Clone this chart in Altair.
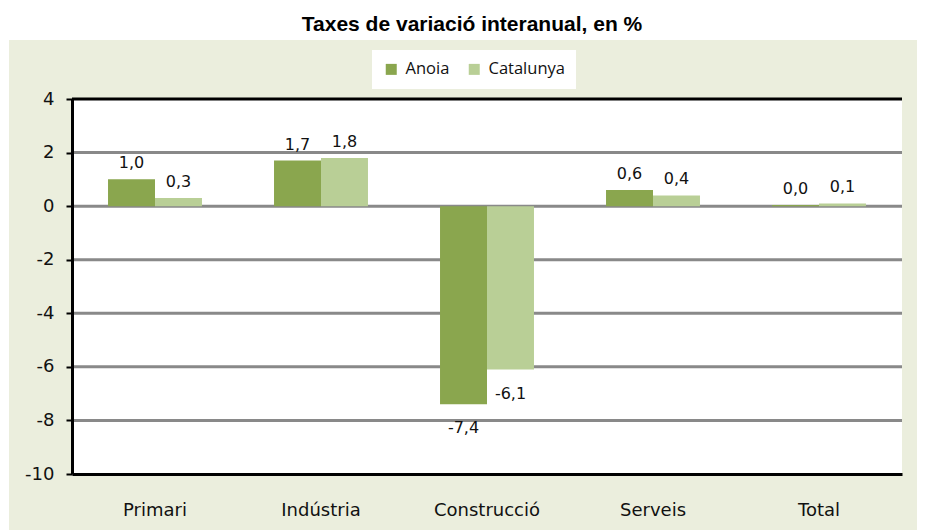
import altair as alt
import pandas as pd

# ---- data ----
categories = ["Primari", "Indústria", "Construcció", "Serveis", "Total"]
series = ["Anoia", "Catalunya"]
anoia = [1.0, 1.7, -7.4, 0.6, 0.04]
catalunya = [0.3, 1.8, -6.1, 0.4, 0.1]
y_ticks = [-10, -8, -6, -4, -2, 0, 2, 4]
grid_values = [-8, -6, -4, -2, 0, 2]
colors = ["#8aa64e", "#b9cf96"]
title_text = "Taxes de variació interanual, en %"

rows = []
for c, a, b in zip(categories, anoia, catalunya):
    rows.append({"cat": c, "serie": series[0], "v": a})
    rows.append({"cat": c, "serie": series[1], "v": b})
df = pd.DataFrame(rows)

W, H = 830, 375
PAD_L, PAD_T, PAD_R, PAD_B = 64, 91, 15, 56
BEIGE = "#ebeedd"

yscale = alt.Scale(domain=[-10, 4], nice=False, zero=False)
yaxis = alt.Axis(
    orient="left",
    values=y_ticks, title=None, grid=False, domainColor="black", domainWidth=3,
    tickColor="black", tickWidth=2, tickSize=6, labelPadding=12,
    labelFont="DejaVu Sans", labelFontSize=18, labelColor="#111111",
    labelExpr="'' + datum.value", zindex=1,
)
xaxis = alt.Axis(
    orient="bottom",
    title=None, ticks=False, domainColor="black", domainWidth=3, labelAngle=0,
    labelPadding=27, labelFont="DejaVu Sans", labelFontSize=18,
    labelColor="#111111", zindex=1,
)
xscale = alt.Scale(domain=categories, paddingInner=0.434, paddingOuter=0.217)

one = alt.Data(values=[{"k": 1}])

bg = alt.Chart(one).mark_rect(color=BEIGE).encode(
    x=alt.value(-63), x2=alt.value(W + PAD_R),
    y=alt.value(-59), y2=alt.value(H + PAD_B),
)
white = alt.Chart(one).mark_rect(color="white").encode(
    x=alt.value(0), x2=alt.value(W), y=alt.value(0), y2=alt.value(H),
)
grid = alt.Chart(pd.DataFrame({"g": grid_values})).mark_rule(
    color="#898989", strokeWidth=3
).encode(
    y=alt.Y("g:Q", scale=yscale, axis=yaxis),
    x=alt.value(0), x2=alt.value(W),
)
top = alt.Chart(one).mark_rule(color="black", strokeWidth=3).encode(
    y=alt.value(0), x=alt.value(0), x2=alt.value(W),
)

base = alt.Chart(df).encode(
    x=alt.X("cat:N", sort=categories, scale=xscale, axis=xaxis),
    xOffset=alt.XOffset("serie:N", sort=series,
                        scale=alt.Scale(paddingInner=0, paddingOuter=0)),
)

bars = base.mark_bar().encode(
    y=alt.Y("v:Q", scale=yscale, axis=yaxis),
    color=alt.Color(
        "serie:N", sort=series,
        scale=alt.Scale(domain=series, range=colors),
        legend=alt.Legend(
            title=None, orient="none", direction="horizontal",
            legendX=300, legendY=-49, fillColor="white", padding=11,
            symbolType="square", symbolSize=121, symbolStrokeWidth=0,
            labelFont="Open Sans", labelFontSize=16.5, labelColor="#111111",
            labelOffset=6, columnPadding=16, zindex=1,
        ),
    ),
)

label_expr = "replace(replace(format(datum.v, '.1f'), '.', ','), '\u2212', '-')"
pos = base.transform_filter("datum.v >= 0").transform_calculate(
    lab=label_expr
).mark_text(
    font="DejaVu Sans", fontSize=16, color="#111111", baseline="alphabetic", dy=-11
).encode(y=alt.Y("v:Q", scale=yscale, axis=yaxis), text="lab:N")

neg = base.transform_filter("datum.v < 0").transform_calculate(
    lab=label_expr
).mark_text(
    font="DejaVu Sans", fontSize=16, color="#111111", baseline="top", dy=16
).encode(y=alt.Y("v:Q", scale=yscale, axis=yaxis), text="lab:N")

chart = alt.layer(bg, white, grid, top, bars, pos, neg).properties(
    width=W, height=H,
    autosize=alt.AutoSizeParams(type="none"),
    padding={"left": PAD_L, "top": PAD_T, "right": PAD_R, "bottom": PAD_B},
    title=alt.Title(title_text, font="Liberation Sans", fontSize=21,
                    fontWeight="bold", color="black", anchor="middle",
                    frame="group", dx=-15, offset=5),
).resolve_axis(y="shared", x="shared").configure(background="white").configure_view(
    stroke="transparent", strokeWidth=0
)

chart.save("out.html", embed_options={"renderer": "svg", "actions": False})
